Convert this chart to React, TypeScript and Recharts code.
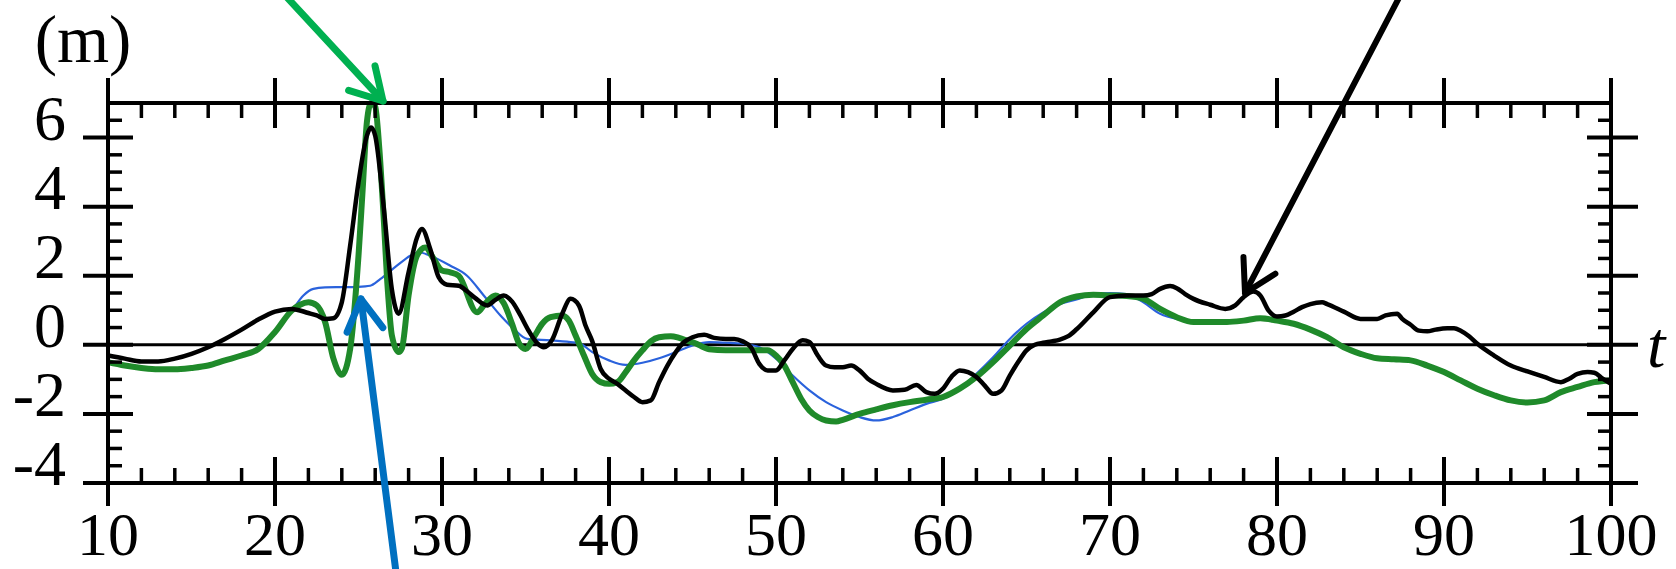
import { LineChart, Line, XAxis, YAxis, ReferenceLine } from "recharts";

// observed record (black)
const blackT = [
  10, 11, 12, 13, 14, 15, 16, 17, 18, 19,
  20, 21, 22, 22.5, 23, 23.5, 24, 24.5, 25, 25.5,
  25.75, 26, 26.5, 27, 27.4, 28, 28.5, 28.8, 29.3, 29.8,
  30.3, 31, 31.5, 32, 32.7, 33.2, 33.7, 34.2, 34.7, 35.2,
  35.7, 36.1, 36.6, 37.2, 37.7, 38.2, 38.6, 39, 39.5, 40,
  40.5, 41, 41.5, 42, 42.5, 43, 43.5, 44, 44.5, 45,
  45.7, 46.3, 47, 47.5, 48, 48.5, 49, 49.5, 50, 50.5,
  51, 51.6, 52, 52.5, 53, 53.5, 54, 54.5, 55, 55.5,
  56, 57, 57.7, 58.4, 59, 59.5, 60, 60.5, 61, 61.5,
  62, 62.5, 63, 63.5, 64, 64.5, 65, 65.5, 66, 66.5,
  67, 67.5, 68, 69, 70, 71, 72, 72.5, 73, 73.6,
  74, 74.5, 75, 76, 76.9, 77.5, 78, 78.6, 79, 79.5,
  80, 80.5, 81, 81.5, 82, 82.7, 83, 84, 85, 86,
  86.5, 87.2, 87.5, 88, 88.5, 89, 89.5, 90.2, 90.6, 91,
  91.5, 92, 93, 94, 95, 96, 97, 97.5, 98, 98.6,
  99, 99.5, 100,
];
const blackV = [
  -0.31, -0.4, -0.48, -0.48, -0.4, -0.26, -0.07, 0.17, 0.44, 0.73,
  0.96, 1.04, 0.92, 0.85, 0.75, 0.77, 1.23, 2.87, 4.7, 6.05,
  6.29, 6.05, 4.03, 1.6, 0.9, 2.1, 3.1, 3.35, 2.77, 1.96,
  1.74, 1.71, 1.55, 1.35, 1.14, 1.3, 1.43, 1.25, 0.85, 0.4,
  0.05, -0.07, 0.15, 0.9, 1.33, 1.14, 0.55, 0.1, -0.7, -0.98,
  -1.13, -1.32, -1.51, -1.66, -1.61, -1.08, -0.6, -0.21, 0.08, 0.22,
  0.29, 0.2, 0.17, 0.17, 0.1, -0.07, -0.55, -0.74, -0.74, -0.45,
  -0.12, 0.13, 0.08, -0.31, -0.6, -0.65, -0.65, -0.6, -0.74, -0.98,
  -1.13, -1.32, -1.3, -1.16, -1.37, -1.42, -1.27, -0.93, -0.74, -0.79,
  -0.93, -1.18, -1.42, -1.32, -0.89, -0.5, -0.16, 0, 0.06, 0.1,
  0.15, 0.25, 0.45, 0.94, 1.38, 1.43, 1.43, 1.47, 1.62, 1.7,
  1.64, 1.47, 1.33, 1.16, 1.04, 1.14, 1.38, 1.54, 1.43, 0.99,
  0.82, 0.85, 0.96, 1.09, 1.18, 1.23, 1.18, 0.96, 0.75, 0.75,
  0.85, 0.9, 0.75, 0.58, 0.41, 0.39, 0.44, 0.48, 0.48, 0.41,
  0.25, 0.03, -0.31, -0.6, -0.77, -0.93, -1.08, -0.98, -0.84, -0.79,
  -0.81, -0.98, -1.13,
];

// thin blue run
const blueT = [
  10, 11, 12, 13, 14, 15, 16, 17, 18, 19,
  20, 21, 21.7, 22.3, 23, 24, 25, 25.7, 26.3, 27.3,
  28.1, 28.6, 29.3, 30.5, 31.5, 32.5, 33.5, 34.3, 35.1, 36.5,
  37.7, 38.2, 39, 40, 41, 42, 43, 44, 45, 46,
  47, 48, 49, 50, 51, 52, 53, 54, 55, 56,
  57, 58, 59, 60, 61, 62, 63, 64, 65, 66,
  67, 68, 69, 70, 71, 72, 73, 74, 75, 76,
  77, 78, 79, 80, 81, 82, 83, 84, 85, 86,
  87, 88, 89, 90, 91, 92, 93, 94, 95, 96,
  97, 98, 99, 100,
];
const blueV = [
  -0.5, -0.6, -0.66, -0.7, -0.7, -0.66, -0.58, -0.44, -0.3, -0.1,
  0.35, 0.98, 1.43, 1.62, 1.66, 1.67, 1.68, 1.71, 1.9, 2.29,
  2.58, 2.68, 2.58, 2.29, 2.0, 1.43, 0.85, 0.46, 0.17, 0.13,
  0.08, 0.05, -0.21, -0.45, -0.58, -0.52, -0.39, -0.21, -0.02, 0.08,
  0.06, 0.03, -0.07, -0.4, -0.89, -1.32, -1.66, -1.9, -2.09, -2.19,
  -2.09, -1.9, -1.71, -1.56, -1.27, -0.84, -0.36, 0.17, 0.61, 0.94,
  1.18, 1.31, 1.47, 1.5, 1.47, 1.23, 0.9, 0.75, 0.7, 0.66,
  0.66, 0.7, 0.76, 0.7, 0.6, 0.43, 0.2, -0.09, -0.28, -0.41,
  -0.45, -0.47, -0.62, -0.81, -1.05, -1.29, -1.48, -1.63, -1.7, -1.62,
  -1.38, -1.23, -1.09, -1.03,
];

// thick green run
const greenT = [
  10, 11, 12, 13, 14, 15, 16, 17, 18, 19,
  20, 21, 21.5, 22, 22.5, 23, 23.5, 24, 24.5, 25,
  25.25, 25.5, 25.75, 26, 26.25, 26.5, 26.75, 27, 27.4, 27.6,
  28, 28.5, 29, 29.5, 30, 30.5, 31, 32.1, 32.6, 33.2,
  33.7, 34.2, 34.6, 35, 35.5, 36, 36.5, 37.2, 37.6, 38,
  38.5, 39, 39.5, 40, 40.5, 41, 41.5, 42, 42.5, 43,
  43.7, 44.2, 44.7, 45.2, 45.7, 46, 47, 48, 49, 49.5,
  50, 50.5, 51, 51.5, 52, 52.5, 53, 53.6, 54, 55,
  56, 57, 58, 59, 60, 61, 62, 63, 64, 65,
  66, 67, 68, 69, 70, 71, 72, 73, 74, 75,
  76, 77, 78, 79, 80, 81, 82, 83, 84, 85,
  86, 87, 88, 89, 90, 91, 92, 93, 94, 95,
  96, 97, 98, 99, 100,
];
const greenV = [
  -0.5, -0.6, -0.67, -0.71, -0.71, -0.67, -0.6, -0.45, -0.31, -0.12,
  0.37, 0.99, 1.16, 1.23, 1.14, 0.66, -0.4, -0.87, -0.12, 2.58,
  4.5, 6.44, 7.0, 6.9, 5.66, 3.74, 1.62, 0.27, -0.21, -0.1,
  1.43, 2.58, 2.82, 2.49, 2.15, 2.1, 2.0, 0.94, 1.2, 1.43,
  1.2, 0.6, 0.05, -0.12, 0.22, 0.61, 0.8, 0.85, 0.7, 0.27,
  -0.31, -0.85, -1.08, -1.13, -1.08, -0.79, -0.45, -0.16, 0.1, 0.22,
  0.25, 0.2, 0.12, 0.04, -0.08, -0.13, -0.16, -0.16, -0.16, -0.16,
  -0.31, -0.6, -1.08, -1.56, -1.9, -2.09, -2.19, -2.22, -2.17, -2.0,
  -1.87, -1.75, -1.66, -1.59, -1.51, -1.27, -0.93, -0.5, -0.02, 0.46,
  0.85, 1.23, 1.4, 1.45, 1.43, 1.41, 1.33, 1.04, 0.8, 0.66,
  0.66, 0.66, 0.7, 0.77, 0.7, 0.61, 0.44, 0.22, -0.07, -0.26,
  -0.39, -0.42, -0.45, -0.6, -0.79, -1.03, -1.27, -1.46, -1.61, -1.67,
  -1.61, -1.37, -1.22, -1.08, -1.03,
];

const xTicks = [
  10, 12, 14, 16, 18, 20, 22, 24, 26, 28, 30, 32, 34, 36, 38, 40, 42, 44, 46, 48,
  50, 52, 54, 56, 58, 60, 62, 64, 66, 68, 70, 72, 74, 76, 78, 80, 82, 84, 86, 88,
  90, 92, 94, 96, 98, 100,
];
const xLabels = [10, 20, 30, 40, 50, 60, 70, 80, 90, 100];
const yTicks = [
  -4, -3.5, -3, -2.5, -2, -1.5, -1, -0.5, 0, 0.5, 1, 1.5, 2, 2.5, 3, 3.5, 4, 4.5,
  5, 5.5, 6, 6.5, 7,
];
const yLabels = [-4, -2, 0, 2, 4, 6];

const rows = (ts: number[], vs: number[]) => ts.map((t, i) => ({ t, v: vs[i] }));

const FONT = "'Liberation Serif', 'Times New Roman', serif";
const INK = "#000";

const W = 1676;
const H = 569;
const margin = { top: 43, right: 25, bottom: 26, left: 8 };
const AX_H = 60;
const AX_L = 100;
const AX_R = 40;
const PLOT_W = W - margin.left - margin.right - AX_L - AX_R;
const PLOT_H = H - margin.top - margin.bottom - 2 * AX_H;

// bottom axis ticks also draw the matching ticks on the top frame edge
function BottomTick({ x, y, payload }: any) {
  const major = xLabels.includes(payload.value);
  const top = y - PLOT_H;
  const sw = major ? 4 : 3.5;
  return (
    <g>
      <line x1={x} x2={x} y1={major ? y - 26 : y - 15} y2={major ? y + 23 : y} stroke={INK} strokeWidth={sw} />
      <line x1={x} x2={x} y1={major ? top - 25 : top} y2={major ? top + 25 : top + 15} stroke={INK} strokeWidth={sw} />
      {major && (
        <text x={x} y={y + 72} textAnchor="middle" fontFamily={FONT} fontSize={62} fill={INK}>
          {payload.value}
        </text>
      )}
    </g>
  );
}

// left axis ticks also draw the matching ticks on the right frame edge
function LeftTick({ x, y, payload }: any) {
  const major = yLabels.includes(payload.value);
  const right = x + PLOT_W;
  const sw = major ? 4 : 3.5;
  return (
    <g>
      <line x1={major ? x - 25 : x} x2={major ? x + 25 : x + 14} y1={y} y2={y} stroke={INK} strokeWidth={sw} />
      <line x1={major ? right - 24 : right - 13} x2={major ? right + 27 : right} y1={y} y2={y} stroke={INK} strokeWidth={sw} />
      {major && (
        <text x={x - 42} y={y + 2} textAnchor="end" fontFamily={FONT} fontSize={64} fill={INK}>
          {payload.value}
        </text>
      )}
    </g>
  );
}

// annotation arrows (page pixels): tail, tip
const arrows = [
  { tail: [282, -8], tip: [383, 101], color: "#00B050", width: 7 },
  { tail: [397, 580], tip: [361, 299], color: "#0070C0", width: 7 },
  { tail: [1402, -8], tip: [1245, 293], color: "#000000", width: 6 },
];

function Arrow({ tail, tip, color, width }: any) {
  const dx = tail[0] - tip[0];
  const dy = tail[1] - tip[1];
  const len = Math.hypot(dx, dy);
  const ux = dx / len;
  const uy = dy / len;
  const head = 36;
  const wing = (a: number) =>
    `${tip[0] + head * (ux * Math.cos(a) - uy * Math.sin(a))},${tip[1] + head * (ux * Math.sin(a) + uy * Math.cos(a))}`;
  return (
    <g stroke={color} strokeWidth={width} fill="none" strokeLinecap="round" strokeLinejoin="round">
      <line x1={tail[0]} y1={tail[1]} x2={tip[0]} y2={tip[1]} />
      <polyline points={`${wing(Math.PI / 6)} ${tip[0]},${tip[1]} ${wing(-Math.PI / 6)}`} />
    </g>
  );
}

export default function App() {
  return (
    <div style={{ position: "absolute", left: 0, top: 0, width: W, height: H, background: "#fff" }}>
      <LineChart width={W} height={H} margin={margin}>
        <XAxis
          xAxisId="b"
          orientation="bottom"
          type="number"
          dataKey="t"
          domain={[10, 100]}
          ticks={xTicks}
          interval={0}
          height={AX_H}
          tickSize={0}
          tickMargin={0}
          tickLine={false}
          axisLine={{ stroke: INK, strokeWidth: 4 }}
          tick={BottomTick}
        />
        <XAxis
          xAxisId="t"
          orientation="top"
          type="number"
          domain={[10, 100]}
          height={AX_H}
          tick={false}
          tickLine={false}
          axisLine={{ stroke: INK, strokeWidth: 4 }}
        />
        <YAxis
          yAxisId="l"
          orientation="left"
          type="number"
          domain={[-4, 7]}
          ticks={yTicks}
          interval={0}
          width={AX_L}
          tickSize={0}
          tickMargin={0}
          tickLine={false}
          axisLine={{ stroke: INK, strokeWidth: 4 }}
          tick={LeftTick}
          label={{
            content: ({ viewBox }: any) => (
              <text x={viewBox.x + viewBox.width - 25} y={viewBox.y - 41} textAnchor="middle" fontFamily={FONT} fontSize={67} fill={INK}>
                (m)
              </text>
            ),
          }}
        />
        <YAxis
          yAxisId="r"
          orientation="right"
          type="number"
          domain={[-4, 7]}
          width={AX_R}
          tick={false}
          tickLine={false}
          axisLine={{ stroke: INK, strokeWidth: 4 }}
        />
        <ReferenceLine
          xAxisId="b"
          yAxisId="l"
          y={0}
          stroke={INK}
          strokeWidth={3}
          label={{
            content: ({ viewBox }: any) => (
              <text x={viewBox.x + viewBox.width + 36} y={viewBox.y + 22} fontFamily={FONT} fontStyle="italic" fontSize={66} fill={INK}>
                t
              </text>
            ),
          }}
        />
        <Line xAxisId="b" yAxisId="l" data={rows(blueT, blueV)} dataKey="v" type="monotone" stroke="#2a62dc" strokeWidth={2.2} dot={false} isAnimationActive={false} />
        <Line xAxisId="b" yAxisId="l" data={rows(greenT, greenV)} dataKey="v" type="monotone" stroke="#1f8a2a" strokeWidth={6} dot={false} isAnimationActive={false} />
        <Line xAxisId="b" yAxisId="l" data={rows(blackT, blackV)} dataKey="v" type="monotone" stroke="#000" strokeWidth={4.5} dot={false} isAnimationActive={false} />
      </LineChart>
      <svg width={W} height={H} style={{ position: "absolute", left: 0, top: 0, pointerEvents: "none" }}>
        {arrows.map((a, i) => (
          <Arrow key={i} {...a} />
        ))}
      </svg>
    </div>
  );
}
